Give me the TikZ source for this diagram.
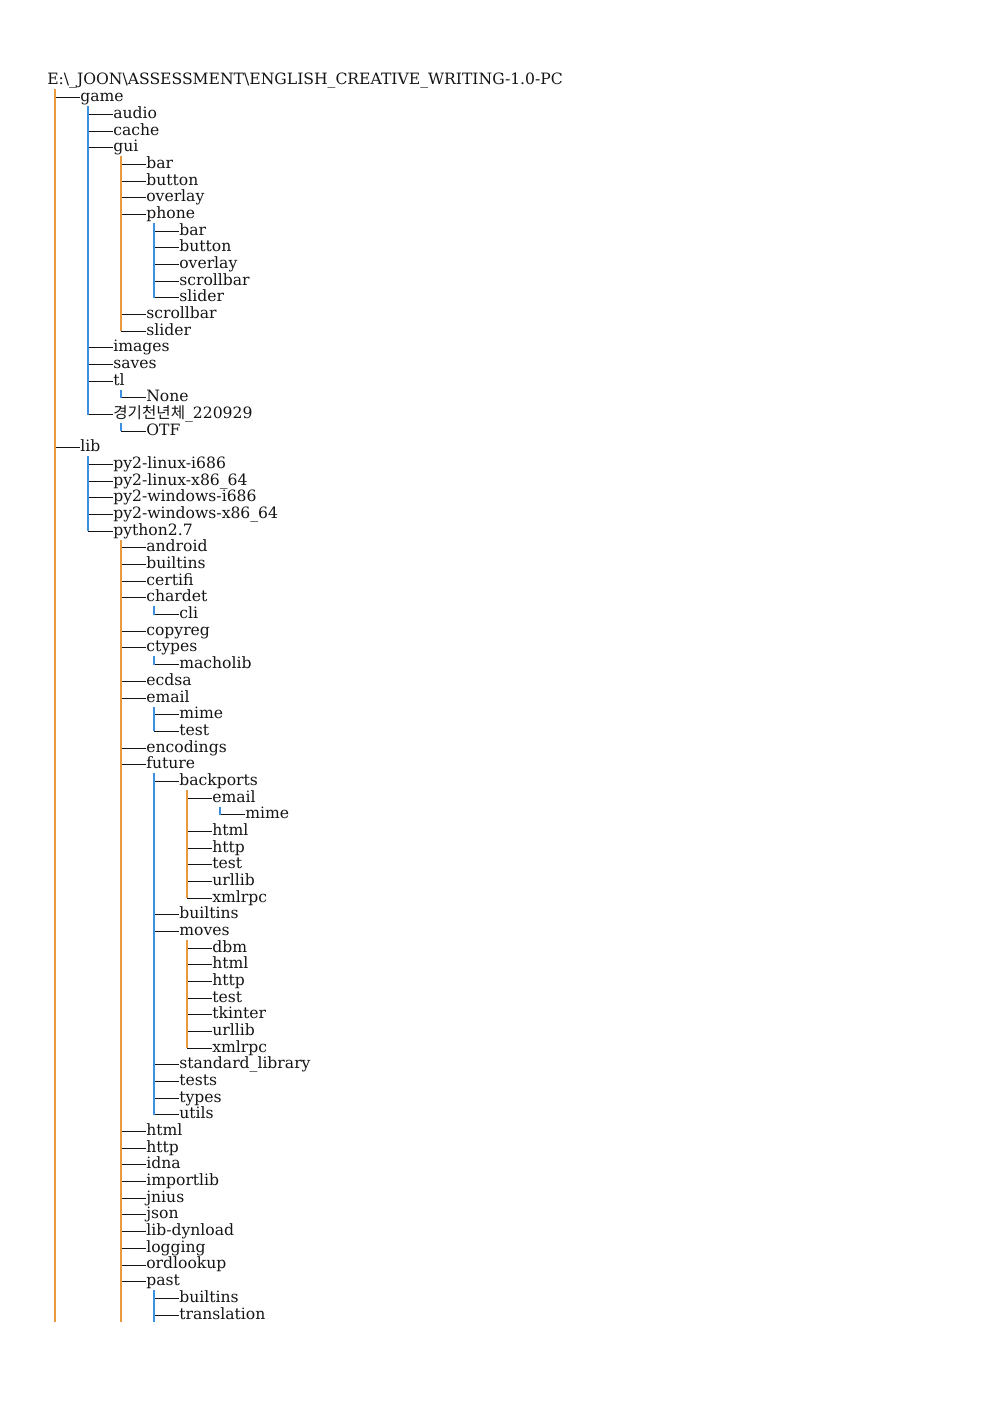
\documentclass[tikz,border=0pt]{standalone}
\usepackage{fontspec}
\setmainfont{DejaVu Serif}
\newfontfamily\KoreanFont{Noto Sans CJK KR}
\usetikzlibrary{calc}
\definecolor{BranchOrange}{HTML}{E89A40}
\definecolor{BranchBlue}{HTML}{3D8FE0}
\definecolor{InkDark}{HTML}{141414}
\newcommand{\EntryFont}{\fontsize{9.4pt}{11pt}\selectfont}

\begin{document}
\begin{tikzpicture}[x=0.6023pt, y=-0.6023pt,
  entry/.style={anchor=west, inner sep=0pt, text height=6.9pt, text depth=2.1pt, text=InkDark, font=\EntryFont},
  tick/.style={draw=InkDark, line width=0.6pt},
  trunk/.style={line width=0.9pt}]
  \useasboundingbox (0,0) rectangle (992,1403);
  % root folder
  \node[entry] (d0) at (47,81)
    {E:\textbackslash\_JOON\textbackslash ASSESSMENT\textbackslash ENGLISH\_CREATIVE\_WRITING-1.0-PC};
  \coordinate (s0) at ($(d0.west)+(8,8.5)$);
  \coordinate (cut) at (0,1322);
  % folders, one per row: row/depth/parent/name
  \foreach \i/\d/\p/\t in {
      1/1/0/game, 2/2/1/audio, 3/2/1/cache, 4/2/1/gui,
      5/3/4/bar, 6/3/4/button, 7/3/4/overlay, 8/3/4/phone,
      9/4/8/bar, 10/4/8/button, 11/4/8/overlay, 12/4/8/scrollbar, 13/4/8/slider,
      14/3/4/scrollbar, 15/3/4/slider,
      16/2/1/images, 17/2/1/saves, 18/2/1/tl, 19/3/18/None,
      20/2/1/{{\KoreanFont 경기천년체}\_220929}, 21/3/20/OTF,
      22/1/0/lib,
      23/2/22/py2-linux-i686, 24/2/22/py2-linux-x86\_64,
      25/2/22/py2-windows-i686, 26/2/22/py2-windows-x86\_64, 27/2/22/python2.7,
      28/3/27/android, 29/3/27/builtins, 30/3/27/certifi, 31/3/27/chardet, 32/4/31/cli,
      33/3/27/copyreg, 34/3/27/ctypes, 35/4/34/macholib, 36/3/27/ecdsa,
      37/3/27/email, 38/4/37/mime, 39/4/37/test, 40/3/27/encodings,
      41/3/27/future, 42/4/41/backports, 43/5/42/email, 44/6/43/mime,
      45/5/42/html, 46/5/42/http, 47/5/42/test, 48/5/42/urllib, 49/5/42/xmlrpc,
      50/4/41/builtins, 51/4/41/moves,
      52/5/51/dbm, 53/5/51/html, 54/5/51/http, 55/5/51/test,
      56/5/51/tkinter, 57/5/51/urllib, 58/5/51/xmlrpc,
      59/4/41/standard\_library, 60/4/41/tests, 61/4/41/types, 62/4/41/utils,
      63/3/27/html, 64/3/27/http, 65/3/27/idna, 66/3/27/importlib, 67/3/27/jnius,
      68/3/27/json, 69/3/27/lib-dynload, 70/3/27/logging, 71/3/27/ordlookup,
      72/3/27/past, 73/4/72/builtins, 74/4/72/translation}{
    \node[entry] (d\i) at ({47+33*\d},{81+16.676*\i}) {\t};
    \coordinate (s\i) at ($(d\i.west)+(8,8.5)$);
    \draw[tick] (s\p |- d\i.west) -- (d\i.west);
  }
  % vertical trunks: parent/last child/colour
  \foreach \p/\l/\c in {
      0/cut/BranchOrange, 1/d20/BranchBlue, 4/d15/BranchOrange, 8/d13/BranchBlue,
      18/d19/BranchBlue, 20/d21/BranchBlue, 22/d27/BranchBlue, 27/cut/BranchOrange,
      31/d32/BranchBlue, 34/d35/BranchBlue, 37/d39/BranchBlue, 41/d62/BranchBlue,
      42/d49/BranchOrange, 43/d44/BranchBlue, 51/d58/BranchOrange, 72/cut/BranchBlue}
    \draw[trunk, \c] (s\p) -- (s\p |- \l);
\end{tikzpicture}
\end{document}
